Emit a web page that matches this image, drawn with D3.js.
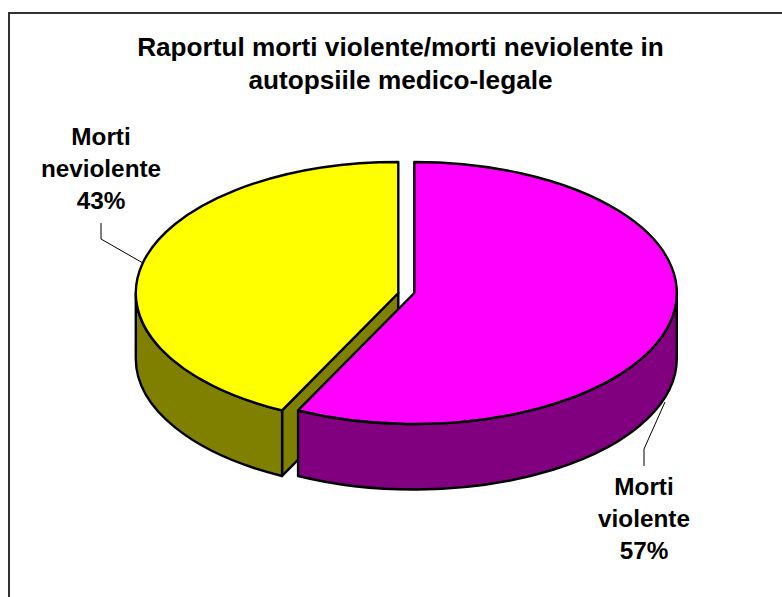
<!DOCTYPE html>
<html><head><meta charset="utf-8">
<script src="https://cdn.jsdelivr.net/npm/d3@7"></script>
<style>html,body{margin:0;padding:0;background:#fff}svg{display:block}text{font-family:"Liberation Sans",Arial,sans-serif;font-weight:bold;fill:#000}</style>
</head><body><svg id="c" width="782" height="597"></svg>
<script>
const categories = ["Morti violente", "Morti neviolente"];
const categoryLines = [["Morti", "violente"], ["Morti", "neviolente"]];
const values = [57.3, 42.7];
const topColors = ["#ff00ff", "#ffff00"];
const sideColors = ["#800080", "#808000"];
const titleLines = ["Raportul morti violente/morti neviolente in", "autopsiile medico-legale"];

const svg = d3.select("#c");
const rx = 262.5, ry = 131, depth = 65.5, cy = 293;
const centers = [414.3, 398.3];
const labelX = [644, 101], labelY = [495, 145];
const leaders = [[[644,466],[644,449],[665,402]], [[101,223],[101,239],[142,262.5]]];

svg.append("path").attr("d","M9,597V13H782").attr("fill","none")
  .attr("stroke","#333").attr("stroke-width",2);

const pie = d3.pie().sort(null)(values);
const pt = (cx,a,dy=0)=>[cx+rx*Math.sin(a), cy-ry*Math.cos(a)+dy];
const line3 = d3.line();
const arcGen = d3.arc().innerRadius(0).outerRadius(rx);

function sidePath(cx,a0,a1){
  const p0=pt(cx,a0), p1=pt(cx,a1);
  const sweep = a1>a0?1:0;
  return `M${p0}A${rx},${ry} 0 0 ${sweep} ${p1}L${p1[0]},${p1[1]+depth}A${rx},${ry} 0 0 ${1-sweep} ${p0[0]},${p0[1]+depth}Z`;
}
function drawSlice(i, a0, a1, wall){
  const cx=centers[i], d=pie[i];
  const g=svg.append("g").attr("stroke","#000").attr("stroke-width",2.4).attr("stroke-linejoin","round");
  if(wall){
    const tip=pt(cx,wall);
    g.append("path").attr("fill",sideColors[i])
      .attr("d",line3([[cx,cy],tip,[tip[0],tip[1]+depth],[cx,cy+depth]])+"Z");
  }
  g.append("path").attr("fill",sideColors[i]).attr("d",sidePath(cx,a0,a1));
  g.append("path").attr("fill",topColors[i])
    .attr("transform",`translate(${cx},${cy}) scale(1,${ry/rx})`)
    .attr("d",arcGen({startAngle:d.startAngle,endAngle:d.endAngle}))
    .style("vector-effect","non-scaling-stroke");
}
drawSlice(1, pie[1].startAngle, 1.5*Math.PI, pie[1].startAngle);
drawSlice(0, Math.PI/2, pie[0].endAngle, null);

leaders.forEach(l=>svg.append("path").attr("d",line3(l)).attr("fill","none").attr("stroke","#000").attr("stroke-width",1));

const title=svg.append("text").attr("text-anchor","middle").attr("font-size",26.2);
titleLines.forEach((t,i)=>title.append("tspan").attr("x",400.5).attr("y",56+i*33).text(t));

categories.forEach((c,i)=>{
  const t=svg.append("text").attr("text-anchor","middle").attr("font-size",24.3);
  [...categoryLines[i], Math.round(values[i])+"%"].forEach((s,k)=>
    t.append("tspan").attr("x",labelX[i]).attr("y",labelY[i]+k*32).text(s));
});
</script></body></html>
